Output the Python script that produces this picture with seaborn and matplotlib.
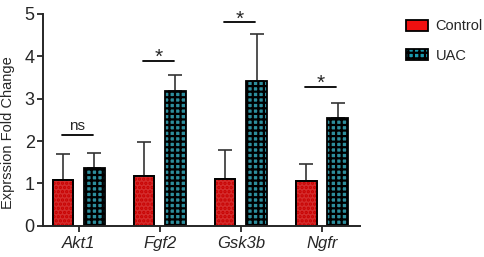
import matplotlib.pyplot as plt
import matplotlib.patches as mpatches
import pandas as pd
import seaborn as sns

genes = ["Akt1", "Fgf2", "Gsk3b", "Ngfr"]
groups = ["Control", "UAC"]
control_mean = [1.08, 1.17, 1.10, 1.05]
uac_mean = [1.37, 3.18, 3.42, 2.55]
control_err = [0.62, 0.81, 0.68, 0.41]
uac_err = [0.36, 0.38, 1.10, 0.35]
sig_labels = ["ns", "*", "*", "*"]
sig_heights = [2.15, 3.90, 4.80, 3.28]

df = pd.DataFrame({
    "gene": genes * 2,
    "group": ["Control"] * 4 + ["UAC"] * 4,
    "value": control_mean + uac_mean,
})

sns.set_style("ticks")
plt.rcParams['font.family'] = ['Liberation Sans', 'DejaVu Sans']
plt.rcParams['hatch.linewidth'] = 1.6

fig = plt.figure(figsize=(4.84, 2.57), dpi=100)
ax = fig.add_axes([0.089, 0.121, 0.655, 0.825])

red = "#f01010"
teal = "#1a9bb0"
sns.barplot(data=df, x="gene", y="value", hue="group", hue_order=groups,
            palette=[red, teal], width=0.77, gap=0.35, edgecolor="black",
            linewidth=1.3, errorbar=None, legend=False, ax=ax)

# patterns: faint dots on control, checker-like grid on UAC
for bar in ax.containers[0]:
    bar.set_zorder(2)
    overlay = mpatches.Rectangle(bar.get_xy(), bar.get_width(), bar.get_height(),
                                 fill=False, hatch="....", edgecolor="#c80000",
                                 linewidth=0, zorder=2.1)
    ax.add_patch(overlay)
    border = mpatches.Rectangle(bar.get_xy(), bar.get_width(), bar.get_height(),
                                fill=False, edgecolor="black", linewidth=1.3, zorder=2.2)
    ax.add_patch(border)
for bar in ax.containers[1]:
    bar.set_hatch("+++")
    bar.set_zorder(2)

# one-sided error bars
for cont, means, errs in [(ax.containers[0], control_mean, control_err),
                          (ax.containers[1], uac_mean, uac_err)]:
    xs = [b.get_x() + b.get_width() / 2 for b in cont]
    ax.errorbar(xs, means, yerr=[[0] * 4, errs], fmt="none", ecolor="#333333",
                elinewidth=1.2, capsize=5, capthick=1.2, zorder=1)

# significance brackets
for i, (lab, h) in enumerate(zip(sig_labels, sig_heights)):
    x0 = ax.containers[0][i].get_x() + ax.containers[0][i].get_width() / 2 - 0.02
    x1 = ax.containers[1][i].get_x() + ax.containers[1][i].get_width() / 2 - 0.02
    ax.plot([x0, x1], [h, h], color="black", lw=1.3)
    if lab == "ns":
        ax.text((x0 + x1) / 2, h + 0.05, lab, ha="center", va="bottom", fontsize=11)
    else:
        ax.text((x0 + x1) / 2, h - 0.15, lab, ha="center", va="bottom", fontsize=15)

ax.set_ylim(0, 5)
ax.set_xlim(-0.44, 3.47)
ax.set_yticks([0, 1, 2, 3, 4, 5])
ax.set_xlabel("")
ax.set_ylabel("Exprssion Fold Change", fontsize=10.5)
ax.yaxis.set_label_coords(-0.088, 0.44)
ax.set_xticks(range(4))
ax.set_xticklabels(genes, fontstyle="italic", fontsize=12)
ax.tick_params(axis="y", labelsize=13, width=1.3, length=4, pad=2)
ax.tick_params(axis="x", width=1.3, length=4)
for s in ["left", "bottom"]:
    ax.spines[s].set_linewidth(1.4)
sns.despine(ax=ax)

handles = [mpatches.Patch(facecolor=red, edgecolor="black", linewidth=1.3),
           mpatches.Patch(facecolor=teal, edgecolor="black", linewidth=1.3, hatch="+++")]
fig.legend(handles, groups, loc="upper left", bbox_to_anchor=(0.838, 0.925),
           frameon=False, fontsize=10.5, handlelength=1.55, handleheight=0.75,
           labelspacing=1.05, handletextpad=0.5, borderpad=0, borderaxespad=0)

fig.savefig("out.png", dpi=100)
